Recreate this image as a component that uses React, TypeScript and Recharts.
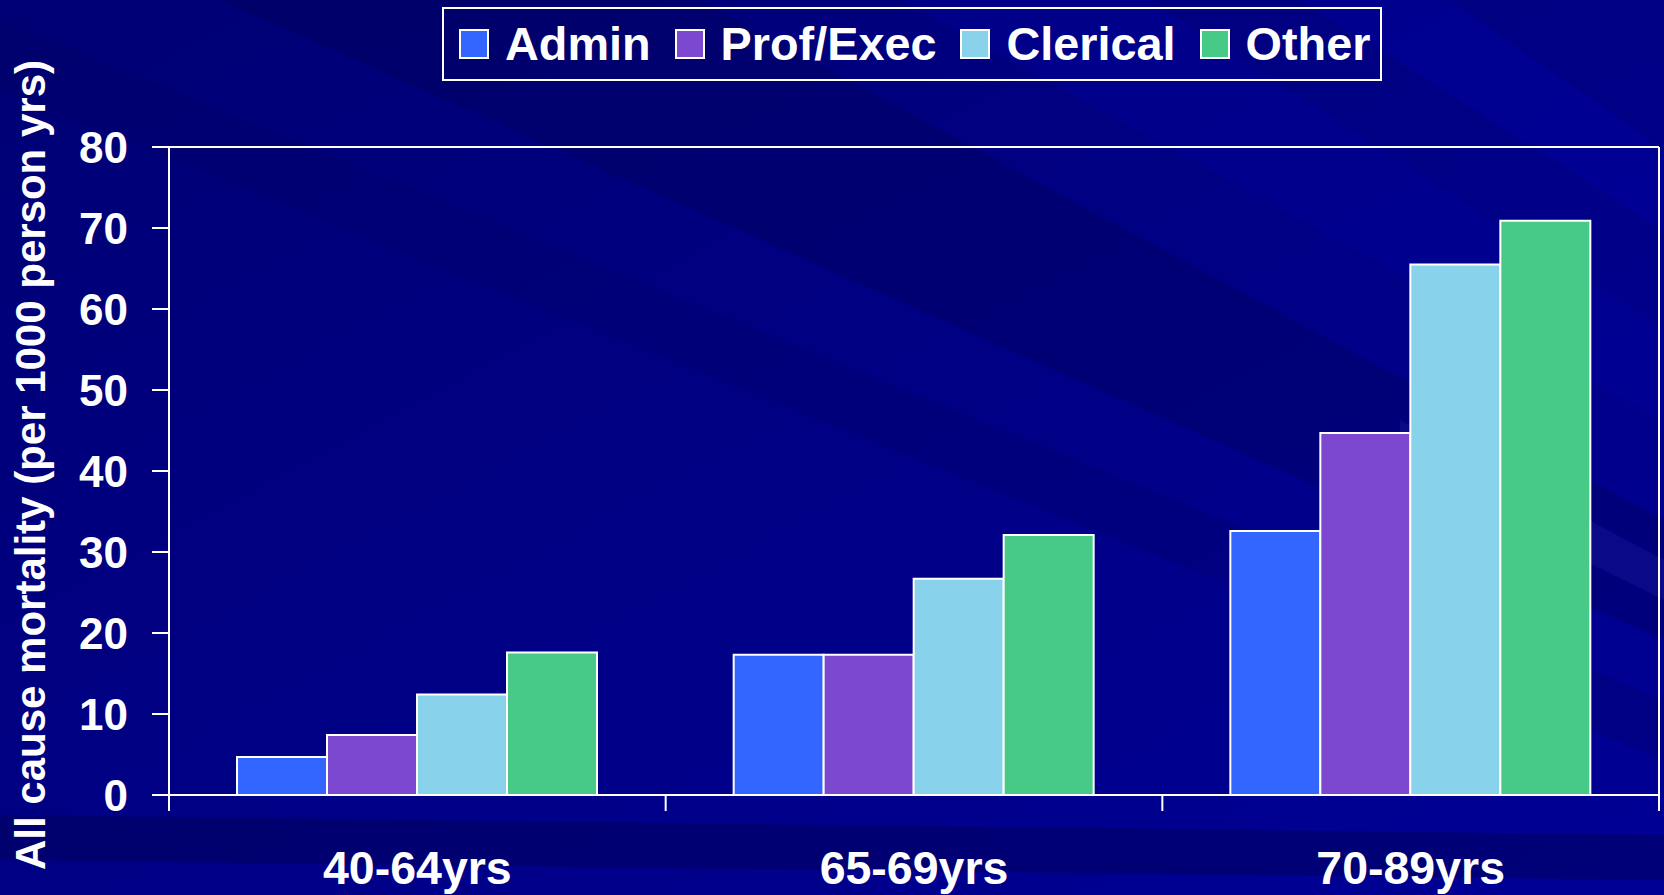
import React from "react";
import {
  BarChart,
  Bar,
  XAxis,
  YAxis,
  CartesianGrid,
  Legend,
} from "recharts";

const categories = ["40-64yrs", "65-69yrs", "70-89yrs"];
const admin = [4.7, 17.3, 32.6];
const profExec = [7.4, 17.3, 44.7];
const clerical = [12.4, 26.7, 65.5];
const other = [17.6, 32.1, 70.9];
const yTicks = [0, 10, 20, 30, 40, 50, 60, 70, 80];

const SERIES = [
  { key: "admin", name: "Admin", color: "#3366FF" },
  { key: "profExec", name: "Prof/Exec", color: "#7B48CF" },
  { key: "clerical", name: "Clerical", color: "#88D2EC" },
  { key: "other", name: "Other", color: "#47C987" },
];

const data = categories.map((c, i) => ({
  category: c,
  admin: admin[i],
  profExec: profExec[i],
  clerical: clerical[i],
  other: other[i],
}));

const W = 1664;
const H = 895;
const FONT = "'Liberation Sans', Arial, sans-serif";
const PLOT_LEFT = 169;
const PLOT_RIGHT = 1659;
const PLOT_BOTTOM = 795;
const BAND = (PLOT_RIGHT - PLOT_LEFT) / categories.length;

function XTick(props: any) {
  const { x, index } = props;
  const last = index === categories.length - 1;
  return (
    <g>
      <line x1={x - BAND / 2} x2={x - BAND / 2} y1={PLOT_BOTTOM} y2={811} stroke="#fff" strokeWidth={2} />
      {last && (
        <line x1={x + BAND / 2} x2={x + BAND / 2} y1={PLOT_BOTTOM} y2={811} stroke="#fff" strokeWidth={2} />
      )}
      <text
        x={x}
        y={884}
        textAnchor="middle"
        fill="#fff"
        fontSize={46.5}
        fontWeight="bold"
        fontFamily={FONT}
      >
        {props.payload.value}
      </text>
    </g>
  );
}

function LegendBox() {
  return (
    <div
      style={{
        boxSizing: "border-box",
        width: 940,
        height: 74,
        border: "2px solid #fff",
        display: "flex",
        alignItems: "center",
        paddingLeft: 15,
        fontFamily: FONT,
        fontWeight: "bold",
        fontSize: 46.8,
        color: "#fff",
      }}
    >
      {SERIES.map((s) => (
        <div key={s.key} style={{ display: "flex", alignItems: "center", marginRight: 24 }}>
          <span
            style={{
              display: "inline-block",
              boxSizing: "border-box",
              width: 30,
              height: 30,
              background: s.color,
              border: "2px solid #fff",
              marginRight: 16,
            }}
          />
          <span style={{ lineHeight: "48px" }}>{s.name}</span>
        </div>
      ))}
    </div>
  );
}

function Background() {
  return (
    <svg width={W} height={H} style={{ position: "absolute", left: 0, top: 0 }}>
      <defs>
        <linearGradient id="bg" x1="0" y1="0" x2="1" y2="1">
          <stop offset="0" stopColor="#000074" />
          <stop offset="0.5" stopColor="#000085" />
          <stop offset="1" stopColor="#000096" />
        </linearGradient>
      </defs>
      <rect width={W} height={H} fill="url(#bg)" />
      <polygon points="220,0 700,0 1664,520 1664,640" fill="#000050" opacity={0.3} />
      <polygon points="0,20 0,90 1664,760 1664,700" fill="#000060" opacity={0.25} />
      <polygon points="900,0 1150,0 1664,330 1664,420" fill="#0000a8" opacity={0.25} />
      <polygon points="1300,0 1450,0 1664,150 1664,230" fill="#0000b8" opacity={0.25} />
      <polygon points="1400,420 1664,560 1664,600 1400,470" fill="#3030c0" opacity={0.2} />
      <polygon points="0,815 1664,835 1664,880 0,860" fill="#000055" opacity={0.45} />
    </svg>
  );
}

export default function App() {
  return (
    <div style={{ position: "fixed", left: 0, top: 0, width: W, height: H, overflow: "hidden" }}>
      <Background />
      <div style={{ position: "absolute", left: 0, top: 0 }}>
        <BarChart
          width={W}
          height={H}
          data={data}
          margin={{ top: 147, right: 4, bottom: 0, left: 0 }}
          barCategoryGap={68}
          barGap={0}
        >
          <CartesianGrid vertical={false} stroke="#fff" strokeWidth={2} />
          <XAxis
            dataKey="category"
            height={100}
            axisLine={{ stroke: "#fff", strokeWidth: 2 }}
            tickLine={false}
            tick={<XTick />}
            interval={0}
          />
          <YAxis
            yAxisId="left"
            width={169}
            domain={[0, 80]}
            ticks={yTicks}
            tickSize={17}
            tickMargin={24}
            axisLine={{ stroke: "#fff", strokeWidth: 2 }}
            tickLine={{ stroke: "#fff", strokeWidth: 2 }}
            tick={{ fill: "#fff", fontSize: 44, fontWeight: "bold", fontFamily: FONT }}
            label={{
              content: () => (
                <text
                  x={45}
                  y={465}
                  transform="rotate(-90 45 465)"
                  textAnchor="middle"
                  fill="#fff"
                  fontSize={42}
                  fontWeight="bold"
                  fontFamily={FONT}
                >
                  All cause mortality (per 1000 person yrs)
                </text>
              ),
            }}
          />
          <YAxis
            yAxisId="right"
            orientation="right"
            width={1}
            domain={[0, 80]}
            tick={false}
            tickLine={false}
            axisLine={{ stroke: "#fff", strokeWidth: 2 }}
          />
          <Legend
            layout="vertical"
            verticalAlign="middle"
            align="center"
            wrapperStyle={{ left: 442, top: 7, width: 940, height: 74 }}
            content={() => <LegendBox />}
          />
          {SERIES.map((s) => (
            <Bar
              key={s.key}
              yAxisId="left"
              dataKey={s.key}
              name={s.name}
              fill={s.color}
              stroke="#fff"
              strokeWidth={2}
              isAnimationActive={false}
            />
          ))}
        </BarChart>
      </div>
    </div>
  );
}
